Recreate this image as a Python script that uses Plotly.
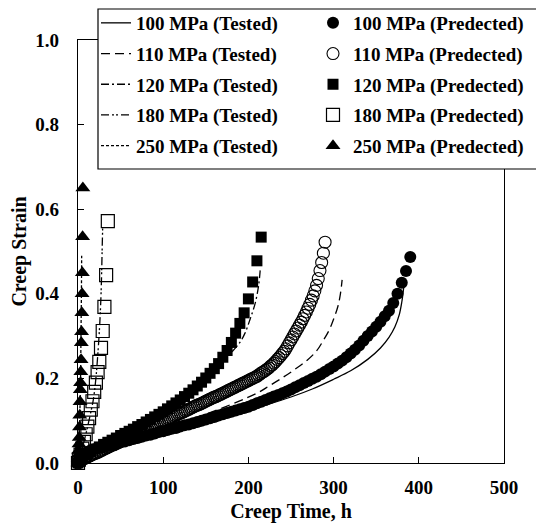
import plotly.graph_objects as go

# ---------------- data ----------------
# 100 MPa predicted (filled circles)
t100p = [0, 5, 10, 15, 20, 25, 30, 35, 40, 45, 50, 55, 60, 65, 70, 75, 80, 85, 90, 95,
         100, 105, 110, 115, 120, 125, 130, 135, 140, 145, 150, 155, 160, 165, 170, 175,
         180, 185, 190, 195, 200, 205, 210, 215, 220, 225, 230, 235, 240, 245, 250, 255,
         260, 265, 270, 275, 280, 285, 290, 295, 300, 305, 310, 315, 320, 325, 330, 335,
         340, 345, 350, 355, 360, 365, 370, 375, 380, 385, 390]
e100p = [0.000, 0.018, 0.025, 0.030, 0.033, 0.036, 0.038, 0.041, 0.043, 0.046, 0.049,
         0.051, 0.054, 0.057, 0.059, 0.062, 0.065, 0.067, 0.070, 0.073, 0.075, 0.078,
         0.081, 0.083, 0.086, 0.089, 0.091, 0.094, 0.097, 0.100, 0.103, 0.106, 0.109,
         0.112, 0.115, 0.118, 0.121, 0.124, 0.127, 0.130, 0.133, 0.137, 0.141, 0.145,
         0.149, 0.153, 0.157, 0.161, 0.165, 0.169, 0.174, 0.179, 0.184, 0.189, 0.194,
         0.199, 0.204, 0.210, 0.216, 0.222, 0.228, 0.235, 0.242, 0.250, 0.259, 0.268,
         0.278, 0.289, 0.300, 0.311, 0.322, 0.334, 0.347, 0.360, 0.378, 0.400, 0.426,
         0.454, 0.487]

# 100 MPa tested (solid line)
t100t = [0, 5, 10, 20, 50, 100, 150, 200, 225, 250, 275, 300, 320, 340, 355, 365, 372,
         377, 380, 382, 383]
e100t = [0.000, 0.014, 0.021, 0.028, 0.045, 0.072, 0.099, 0.126, 0.140, 0.156, 0.175,
         0.198, 0.218, 0.245, 0.272, 0.297, 0.322, 0.350, 0.380, 0.410, 0.430]

# 110 MPa predicted (open circles)
t110p = [0, 2, 4, 6, 8, 10, 12, 14, 16, 18, 20, 22, 24, 26, 28, 30, 32, 34, 36, 38, 40,
         42, 44, 46, 48, 50, 52, 54, 56, 58, 60, 62, 64, 66, 68, 70, 72, 74, 76, 78, 80,
         82, 84, 86, 88, 90, 92, 94, 96, 98, 100, 102, 104, 106, 108, 110, 112, 114, 116,
         118, 120, 122, 124, 126, 128, 130, 132, 134, 136, 138, 140, 142, 144, 146, 148,
         150, 152, 154, 156, 158, 160, 162, 164, 166, 168, 170, 172, 174, 176, 178, 180,
         182, 184, 186, 188, 190, 192, 194, 196, 198, 200, 202, 204, 206, 208, 210, 212,
         214, 216, 218, 220, 222, 224, 226, 228, 230, 232, 234, 236, 238, 240, 242, 244,
         246, 248, 250, 252, 254, 256, 258, 260, 262, 264, 266, 268, 270, 272, 274, 276,
         278, 280, 282, 284, 286, 288, 290]
e110p = [0.000, 0.004, 0.007, 0.009, 0.011, 0.013, 0.015, 0.017, 0.019, 0.021, 0.023,
         0.024, 0.026, 0.028, 0.030, 0.032, 0.034, 0.036, 0.038, 0.040, 0.042, 0.043,
         0.045, 0.047, 0.049, 0.051, 0.053, 0.055, 0.057, 0.059, 0.061, 0.062, 0.064,
         0.066, 0.068, 0.070, 0.072, 0.074, 0.076, 0.078, 0.080, 0.081, 0.083, 0.085,
         0.087, 0.089, 0.091, 0.093, 0.095, 0.097, 0.099, 0.100, 0.102, 0.104, 0.106,
         0.108, 0.110, 0.112, 0.114, 0.116, 0.118, 0.119, 0.121, 0.123, 0.125, 0.127,
         0.129, 0.131, 0.133, 0.135, 0.137, 0.138, 0.140, 0.142, 0.144, 0.146, 0.148,
         0.150, 0.152, 0.154, 0.156, 0.157, 0.159, 0.161, 0.163, 0.165, 0.167, 0.169,
         0.171, 0.173, 0.175, 0.177, 0.179, 0.181, 0.183, 0.185, 0.187, 0.189, 0.191,
         0.193, 0.195, 0.197, 0.199, 0.201, 0.203, 0.205, 0.208, 0.211, 0.214, 0.216,
         0.219, 0.222, 0.225, 0.229, 0.232, 0.236, 0.240, 0.245, 0.249, 0.254, 0.259,
         0.264, 0.270, 0.277, 0.284, 0.291, 0.298, 0.305, 0.312, 0.319, 0.326, 0.333,
         0.341, 0.349, 0.357, 0.366, 0.375, 0.385, 0.395, 0.407, 0.420, 0.436, 0.455,
         0.474, 0.496, 0.522]

# 110 MPa tested (dashed line)
t110t = [0, 5, 50, 100, 150, 210, 225, 241, 255, 269, 280, 288, 295, 300, 305, 308, 310]
e110t = [0.000, 0.010, 0.045, 0.080, 0.115, 0.165, 0.183, 0.203, 0.222, 0.243, 0.265,
         0.290, 0.315, 0.340, 0.370, 0.400, 0.433]

# 120 MPa predicted (filled squares)
t120p = [0, 5, 10, 15, 20, 25, 30, 35, 40, 45, 50, 55, 60, 65, 70, 75, 80, 85, 90, 95,
         100, 105, 110, 115, 120, 125, 130, 135, 140, 145, 150, 155, 160, 165, 170, 175,
         180, 185, 190, 195, 200, 205, 210, 215]
e120p = [0.000, 0.013, 0.020, 0.027, 0.033, 0.038, 0.044, 0.049, 0.054, 0.059, 0.065,
         0.070, 0.075, 0.080, 0.086, 0.091, 0.097, 0.103, 0.109, 0.115, 0.121, 0.128,
         0.135, 0.142, 0.149, 0.157, 0.165, 0.173, 0.182, 0.191, 0.201, 0.212, 0.223,
         0.235, 0.250, 0.266, 0.285, 0.307, 0.330, 0.355, 0.388, 0.428, 0.478, 0.534]

# 120 MPa tested (dash-dot line)
t120t = [0, 5, 20, 50, 100, 150, 175, 190, 196, 202, 208, 212, 214]
e120t = [0.000, 0.012, 0.031, 0.062, 0.116, 0.193, 0.250, 0.285, 0.307, 0.340, 0.378,
         0.420, 0.460]

# 180 MPa predicted (open squares)
t180p = [0, 1, 3, 5, 7, 9, 11, 13, 15, 17, 19, 21, 23, 25, 27, 29, 31, 33, 35]
e180p = [0.000, 0.008, 0.020, 0.034, 0.050, 0.068, 0.086, 0.106, 0.126, 0.146, 0.168,
         0.190, 0.215, 0.239, 0.272, 0.312, 0.369, 0.444, 0.572]

# 180 MPa tested (dash-dot-dot line)
t180t = [0, 5, 10, 15, 18, 21, 23, 25, 26.5, 27.5, 28.3, 29]
e180t = [0.000, 0.035, 0.075, 0.120, 0.150, 0.200, 0.250, 0.310, 0.370, 0.430, 0.500,
         0.560]

# 250 MPa predicted (filled triangles)
t250p = [0, 0.3, 0.6, 0.9, 1.2, 1.5, 1.8, 2.1, 2.4, 2.7, 3.0, 3.3, 3.6, 3.9, 4.2, 4.5,
         4.8, 5.1, 5.4, 5.7]
e250p = [0.000, 0.010, 0.020, 0.030, 0.045, 0.060, 0.085, 0.113, 0.145, 0.173, 0.190,
         0.216, 0.244, 0.284, 0.310, 0.355, 0.400, 0.450, 0.535, 0.650]

# 250 MPa tested (fine dashed line)
t250t = [0, 1, 2, 3, 3.5, 4, 4.3]
e250t = [0.000, 0.030, 0.100, 0.200, 0.300, 0.400, 0.490]

x_ticks = [0, 100, 200, 300, 400, 500]
y_ticks = [0.0, 0.2, 0.4, 0.6, 0.8, 1.0]

# ---------------- figure ----------------
FONT = "Liberation Serif"
fig = go.Figure()

lines = [
    ("100 MPa (Tested)", t100t, e100t, "solid"),
    ("110 MPa (Tested)", t110t, e110t, "9px,5px"),
    ("120 MPa (Tested)", t120t, e120t, "8px,3px,2px,3px"),
    ("180 MPa (Tested)", t180t, e180t, "8px,3px,2px,2px,2px,3px"),
    ("250 MPa (Tested)", t250t, e250t, "3px,2px"),
]
for i, (name, xs, ys, dash) in enumerate(lines):
    fig.add_trace(go.Scatter(
        x=xs, y=ys, mode="lines", name=name, line_shape="spline",
        line=dict(color="black", width=1.3, dash=dash),
        legend="legend", legendgroup="t%d" % i, cliponaxis=False))

markers = [
    ("100 MPa (Predected)", t100p, e100p, "circle", 12, 0),
    ("110 MPa (Predected)", t110p, e110p, "circle-open", 12, 1.1),
    ("120 MPa (Predected)", t120p, e120p, "square", 11, 0),
    ("180 MPa (Predected)", t180p, e180p, "square-open", 13, 1.2),
    ("250 MPa (Predected)", t250p, e250p, "triangle-up", 13, 0),
]
for i, (name, xs, ys, sym, sz, lw) in enumerate(markers):
    fig.add_trace(go.Scatter(
        x=xs, y=ys, mode="markers", name=name,
        marker=dict(symbol=sym, size=sz, color="black",
                    line=dict(color="black", width=lw)),
        legend="legend2", legendgroup="p%d" % i, cliponaxis=False))

# page has an 8px body margin, so the figure is 8px smaller than the window
OFF = 8
W, H = 536, 518
L, T = 70, 32
pw, ph = 426, 423
R, B = W - L - pw, H - T - ph


def px2x(p):  # page pixel -> paper x
    return (p - OFF - L) / pw


def py2y(p):  # page pixel -> paper y
    return (T + ph - (p - OFF)) / ph


legend_font = dict(family=FONT, size=19, color="black", weight="bold")
leg_common = dict(font=legend_font, bgcolor="rgba(0,0,0,0)", borderwidth=0,
                  traceorder="grouped", tracegroupgap=3, itemwidth=30,
                  xanchor="left", yanchor="top", orientation="v")

tick_font = dict(family=FONT, size=19, color="black", weight="bold")
title_font = dict(family=FONT, size=20, color="black", weight="bold")

fig.update_layout(
    width=W, height=H,
    margin=dict(l=L, r=R, t=T, b=B, autoexpand=False),
    paper_bgcolor="white", plot_bgcolor="white",
    font=dict(family=FONT, size=17, color="black", weight="bold"),
    showlegend=True,
    legend=dict(x=px2x(96), y=py2y(4), **leg_common),
    legend2=dict(x=px2x(313), y=py2y(4), **leg_common),
    shapes=[dict(type="rect", xref="paper", yref="paper",
                 x0=px2x(98), x1=px2x(543), y0=py2y(169), y1=py2y(9),
                 fillcolor="white", line=dict(color="black", width=1.2),
                 layer="above")],
    xaxis=dict(range=[0, 500], tickvals=x_ticks, ticks="inside", ticklen=6,
               tickwidth=1, tickcolor="black", showline=True, linecolor="black",
               linewidth=1.4, mirror=True, showgrid=False, zeroline=False,
               ticklabelstandoff=7, tickfont=tick_font,
               title=dict(text="Creep Time, h", standoff=6, font=title_font)),
    yaxis=dict(range=[0, 1.0], tickvals=y_ticks, tickformat=".1f", ticks="inside",
               ticklen=6, tickwidth=1, tickcolor="black", showline=True,
               linecolor="black", linewidth=1.4, mirror=True, showgrid=False,
               zeroline=False, ticklabelstandoff=14, tickfont=tick_font,
               title=dict(text="Creep Strain", standoff=6, font=title_font)),
)

fig.write_html("out.html")
